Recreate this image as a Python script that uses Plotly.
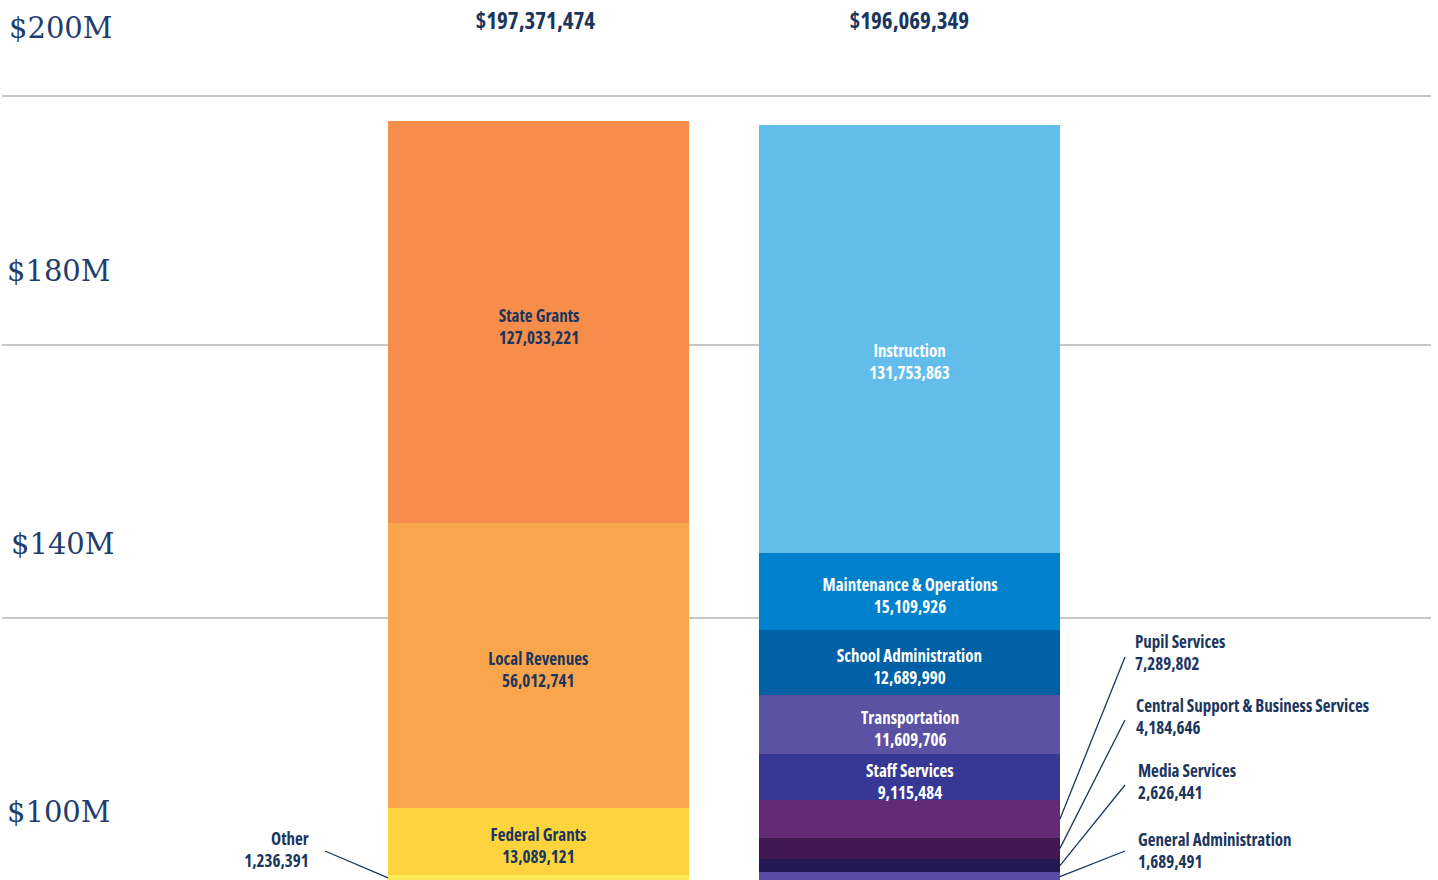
import plotly.graph_objects as go

# ---------------- data ----------------
CATEGORIES = ["Revenues", "Expenditures"]

REVENUE_LABELS = ["Other", "Federal Grants", "Local Revenues", "State Grants"]
REVENUE_VALUES = [1236391, 13089121, 56012741, 127033221]

EXPENSE_LABELS = ["General Administration", "Media Services",
                  "Central Support & Business Services", "Pupil Services",
                  "Staff Services", "Transportation", "School Administration",
                  "Maintenance & Operations", "Instruction"]
EXPENSE_VALUES = [1689491, 2626441, 4184646, 7289802, 9115484,
                  11609706, 12689990, 15109926, 131753863]

Y_TICK_LABELS = ["$200M", "$180M", "$140M", "$100M"]

# ---------------- style ----------------
W, H = 1438, 880
NAVY = "#1B365D"
AXIS_NAVY = "#1F3D6E"
COND = "Open Sans, sans-serif"
SERIF = "DejaVu Serif, serif"

REVENUE_COLORS = ["#FCEB55", "#FDD43D", "#F9A54C", "#F68D4A"]
EXPENSE_COLORS = ["#5B4CA5", "#231A55", "#421852", "#632A75", "#373795",
                  "#5B52A3", "#0060A5", "#0081CB", "#63BDEA"]
REVENUE_INSIDE = [False, True, True, True]
EXPENSE_INSIDE = [False, False, False, False, True, True, True, True, True]
INSIDE_YSHIFT = -4
LABEL_YSHIFT = {"Instruction": -18}

# display scale: upper section of the bars is compressed (broken-axis look)
BREAK_M = 70.0
COMPRESS = 0.62


def disp(v):
    m = v / 1e6
    return m if m <= BREAK_M else BREAK_M + (m - BREAK_M) * COMPRESS


Y_RANGE = [0.2, 172.75]
X_RANGE = [-1.4515, 2.4245]
BAR_W = 0.811


def xpaper(x):
    return (x - X_RANGE[0]) / (X_RANGE[1] - X_RANGE[0])


def ypaper(y):
    return (y - Y_RANGE[0]) / (Y_RANGE[1] - Y_RANGE[0])


def px2paper(px, py):
    return px / W, 1 - py / H


def cfont(size, color):
    return dict(family=COND, size=size, color=color, weight=700)


fig = go.Figure()
annotations = []
shapes = []

# pixel anchors of outside-label text and leader-line tails (layout)
OUTSIDE_STYLE = {
    "Other": dict(text_xy=(311, 849.5), anchor="right", tail=(325, 851), side="left"),
    "Pupil Services": dict(text_xy=(1133, 652), anchor="left", tail=(1125, 657), side="right"),
    "Central Support & Business Services": dict(text_xy=(1134, 716), anchor="left", tail=(1125, 720), side="right"),
    "Media Services": dict(text_xy=(1136, 781.5), anchor="left", tail=(1125, 785), side="right"),
    "General Administration": dict(text_xy=(1136, 850), anchor="left", tail=(1125, 851), side="right"),
}


def add_stack(ci, labels, values, colors, inside, text_color):
    cum = 0
    cat = CATEGORIES[ci]
    for lab, val, col, ins in zip(labels, values, colors, inside):
        b = disp(cum)
        t = disp(cum + val)
        fig.add_trace(go.Bar(
            x=[cat], y=[t - b], base=[b], width=BAR_W,
            marker=dict(color=col, line=dict(width=0)),
            name=lab, showlegend=False,
            hovertemplate=f"{lab}: {val:,}<extra></extra>",
        ))
        mid = (b + t) / 2
        txt = f"{lab}<br>{val:,}"
        if ins:
            annotations.append(dict(
                x=cat, y=mid, xref="x", yref="y", text=txt, showarrow=False,
                font=cfont(17, text_color),
                yshift=INSIDE_YSHIFT + LABEL_YSHIFT.get(lab, 0),
                align="center", xanchor="center", yanchor="middle"))
        else:
            st = OUTSIDE_STYLE[lab]
            tx, ty = px2paper(*st["text_xy"])
            annotations.append(dict(
                x=tx, y=ty, xref="paper", yref="paper", text=txt, showarrow=False,
                font=cfont(17, NAVY),
                align=st["anchor"], xanchor=st["anchor"], yanchor="middle"))
            edge = ci - BAR_W / 2 if st["side"] == "left" else ci + BAR_W / 2
            lx, ly = px2paper(*st["tail"])
            shapes.append(dict(type="line", xref="paper", yref="paper",
                               x0=lx, y0=ly, x1=xpaper(edge), y1=ypaper(mid),
                               line=dict(color=NAVY, width=1.3), layer="above"))
        cum += val
    return cum


tot_rev = add_stack(0, REVENUE_LABELS, REVENUE_VALUES, REVENUE_COLORS, REVENUE_INSIDE, NAVY)
tot_exp = add_stack(1, EXPENSE_LABELS, EXPENSE_VALUES, EXPENSE_COLORS, EXPENSE_INSIDE, "white")

# totals above bars
for cat, tot, dx in zip(CATEGORIES, [tot_rev, tot_exp], [-3, 0]):
    annotations.append(dict(
        x=cat, y=1 - 20 / H, xref="x", yref="paper", text=f"${tot:,}",
        showarrow=False, font=cfont(23, NAVY), xshift=dx,
        xanchor="center", yanchor="middle"))

# decorative axis labels and grid lines
TICK_POS = [(7, 28), (5, 271), (9, 544), (5, 812)]
for lab, (px, py) in zip(Y_TICK_LABELS, TICK_POS):
    x, y = px2paper(px, py)
    annotations.append(dict(x=x, y=y, xref="paper", yref="paper", text=lab,
                            showarrow=False, xanchor="left", yanchor="middle",
                            font=dict(family=SERIF, size=29, color=AXIS_NAVY)))
for gy in [96, 345, 618]:
    shapes.append(dict(type="line", xref="paper", yref="paper",
                       x0=2 / W, x1=1431 / W, y0=1 - gy / H, y1=1 - gy / H,
                       line=dict(color="#B5B5B5", width=1.5), layer="below"))

fig.update_layout(
    width=W, height=H, margin=dict(l=0, r=0, t=0, b=0),
    paper_bgcolor="white", plot_bgcolor="white",
    barmode="overlay", bargap=0,
    xaxis=dict(range=X_RANGE, visible=False, type="category",
               categoryorder="array", categoryarray=CATEGORIES, fixedrange=True),
    yaxis=dict(range=Y_RANGE, visible=False, fixedrange=True),
    annotations=annotations, shapes=shapes, showlegend=False,
)

POST = """
document.body.style.margin='0';
document.body.style.overflow='hidden';
document.querySelectorAll('.annotation-text').forEach(function(e){
  var ff = e.style.fontFamily || '';
  if (ff.indexOf('Open Sans') >= 0) { e.style.fontStretch = '75%'; }
});
"""

fig.write_html("out.html", config={"displayModeBar": False}, post_script=POST)
